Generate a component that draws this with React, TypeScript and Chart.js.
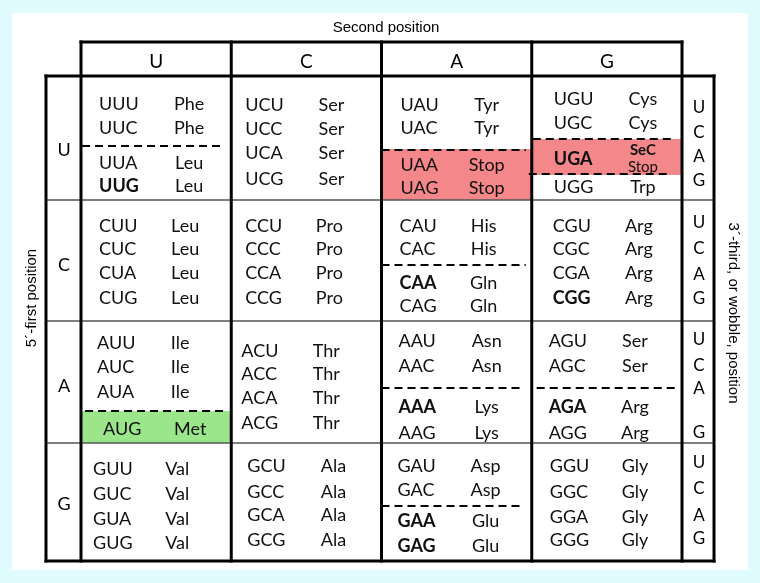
import React, { useEffect, useRef } from "react";
import { Chart, registerables } from "chart.js";
Chart.register(...registerables);

// ---------------- data ----------------
const BASES = ["U", "C", "A", "G"];
const TITLE_SECOND = "Second position";
const TITLE_FIRST = "5´-first position";
const TITLE_THIRD = "3´-third, or wobble, position";

// amino acid per [second base][third base], one array per first base
const AA_FIRST_U = [["Phe", "Phe", "Leu", "Leu"], ["Ser", "Ser", "Ser", "Ser"], ["Tyr", "Tyr", "Stop", "Stop"], ["Cys", "Cys", "Stop", "Trp"]];
const AA_FIRST_C = [["Leu", "Leu", "Leu", "Leu"], ["Pro", "Pro", "Pro", "Pro"], ["His", "His", "Gln", "Gln"], ["Arg", "Arg", "Arg", "Arg"]];
const AA_FIRST_A = [["Ile", "Ile", "Ile", "Met"], ["Thr", "Thr", "Thr", "Thr"], ["Asn", "Asn", "Lys", "Lys"], ["Ser", "Ser", "Arg", "Arg"]];
const AA_FIRST_G = [["Val", "Val", "Val", "Val"], ["Ala", "Ala", "Ala", "Ala"], ["Asp", "Asp", "Glu", "Glu"], ["Gly", "Gly", "Gly", "Gly"]];
const AMINO = [AA_FIRST_U, AA_FIRST_C, AA_FIRST_A, AA_FIRST_G];

const BOLD_CODONS = ["UUG", "UGA", "CAA", "CGG", "AAA", "AGA", "GAA", "GAG"];
const STOP_CODONS = ["UAA", "UAG", "UGA"];
const START_CODONS = ["AUG"];
const SEC_CODONS = ["UGA"];
const SEC_LABEL = "SeC";

// ---------------- layout (not data) ----------------
// x: 1 unit = one second-position column; y: 1 unit ≈ one first-position row group
const X_MIN = -0.5391, X_MAX = 4.5191;
const Y_MIN = -0.6268, Y_MAX = 4.1814;
const Y_EDGES = [0, 1.0227, 2.0206, 3.0268, 4];
const LEFT_X = -0.233, RIGHT_X = 4.213, HEADER_TOP = -0.2804;
const PANEL = { x0: -0.459, x1: 4.439, y0: -0.52, y1: 4.074 };

const LINE_FRAC = [
  [[0.218, 0.419, 0.694, 0.887], [0.226, 0.427, 0.621, 0.823], [0.226, 0.419, 0.71, 0.903], [0.185, 0.379, 0.669, 0.895]],
  [[0.207, 0.405, 0.603, 0.802], [0.207, 0.405, 0.603, 0.802], [0.207, 0.405, 0.686, 0.876], [0.207, 0.405, 0.603, 0.802]],
  [[0.18, 0.377, 0.574, 0.885], [0.238, 0.434, 0.631, 0.836], [0.164, 0.361, 0.705, 0.91], [0.164, 0.361, 0.705, 0.91]],
  [[0.22, 0.424, 0.636, 0.847], [0.195, 0.407, 0.61, 0.814], [0.195, 0.398, 0.661, 0.873], [0.195, 0.407, 0.619, 0.822]],
];
const CODON_X = [
  [0.12, 0.093, 0.127, 0.147],
  [0.12, 0.093, 0.12, 0.14],
  [0.107, 0.067, 0.113, 0.113],
  [0.08, 0.107, 0.107, 0.12],
];
const AA_X = [
  [0.72, 0.667, 0.7, 0.74],
  [0.693, 0.653, 0.68, 0.713],
  [0.66, 0.633, 0.7, 0.687],
  [0.64, 0.68, 0.693, 0.687],
];
const START_X = { codon: 0.147, aa: 0.727 };
// dashed separators: [row, col, frac, xa, xb]
const DASHES = [
  [0, 0, 0.565, 0.007, 0.953],
  [0, 2, 0.597, 0.0, 0.96],
  [0, 3, 0.508, 0.007, 0.947],
  [0, 3, 0.79, -0.02, 0.91],
  [1, 2, 0.537, 0.0, 0.96],
  [2, 0, 0.738, 0.027, 0.973],
  [2, 2, 0.549, 0.0, 0.947],
  [2, 3, 0.549, 0.033, 0.973],
  [3, 2, 0.534, 0.0, 0.947],
];
// shaded bands: [row, col, fracFrom, fracTo, codonIndexInside]
const BANDS = [
  [0, 2, 0.589, 1.0, 2],
  [0, 3, 0.508, 0.798, 2],
  [2, 0, 0.738, 1.0, 3],
];
const RIGHT_FRAC = [[0.25, 0.452, 0.645, 0.839], [0.182, 0.397, 0.612, 0.81], [0.148, 0.361, 0.549, 0.91], [0.161, 0.381, 0.61, 0.805]];
const LEFT_FRAC = [0.589, 0.537, 0.525, 0.517];

const BG = "#e0fbfe";
const RED = "#f3878a";
const GREEN = "#9be58a";
const INK = "#111111";
const F = "Lato, 'Open Sans', sans-serif";
const FA = "'Liberation Sans', Arial, sans-serif";

const tablePlugin = {
  id: "codonTable",
  beforeDraw(chart: any) {
    const ctx = chart.ctx as CanvasRenderingContext2D;
    const xs = chart.scales.x, ys = chart.scales.y;
    const X = (v: number) => xs.getPixelForValue(v);
    const Y = (v: number) => ys.getPixelForValue(v);
    const rowY = (g: number, f: number) => Y(Y_EDGES[g] + f * (Y_EDGES[g + 1] - Y_EDGES[g]));
    const colX = (c: number, a: number) => X(c + a);

    ctx.save();
    // background
    ctx.fillStyle = BG;
    ctx.fillRect(0, 0, chart.width, chart.height);
    ctx.fillStyle = "#ffffff";
    ctx.fillRect(X(PANEL.x0), Y(PANEL.y0), X(PANEL.x1) - X(PANEL.x0), Y(PANEL.y1) - Y(PANEL.y0));

    // bands
    BANDS.forEach(([g, c, f0, f1, k]) => {
      const codon = BASES[g] + BASES[c] + BASES[k];
      ctx.fillStyle = STOP_CODONS.includes(codon) ? RED : START_CODONS.includes(codon) ? GREEN : "transparent";
      const y0 = rowY(g, f0), y1 = rowY(g, f1);
      ctx.fillRect(X(c), y0, X(c + 1) - X(c), y1 - y0);
    });

    // thin group separators
    ctx.strokeStyle = "#555";
    ctx.lineWidth = 1.5;
    for (let g = 1; g < 4; g++) {
      const y = Y(Y_EDGES[g]);
      ctx.beginPath();
      ctx.moveTo(X(LEFT_X), y);
      ctx.lineTo(X(RIGHT_X), y);
      ctx.stroke();
    }

    // thick frame
    ctx.strokeStyle = "#000";
    ctx.lineWidth = 3;
    ctx.lineCap = "square";
    const line = (x0: number, y0: number, x1: number, y1: number) => {
      ctx.beginPath();
      ctx.moveTo(x0, y0);
      ctx.lineTo(x1, y1);
      ctx.stroke();
    };
    const yTop = Y(HEADER_TOP), yGrid = Y(0), yBot = Y(4);
    line(X(0), yTop, X(4), yTop);
    line(X(LEFT_X), yGrid, X(RIGHT_X), yGrid);
    line(X(LEFT_X), yBot, X(RIGHT_X), yBot);
    for (let c = 0; c <= 4; c++) line(X(c), yTop, X(c), yBot);
    line(X(LEFT_X), yGrid, X(LEFT_X), yBot);
    line(X(RIGHT_X), yGrid, X(RIGHT_X), yBot);

    // dashed separators
    ctx.lineWidth = 2;
    ctx.lineCap = "butt";
    ctx.setLineDash([8, 5]);
    DASHES.forEach(([g, c, f, a, b]) => {
      const y = rowY(g, f);
      line(colX(c, a), y, colX(c, b), y);
    });
    ctx.setLineDash([]);

    // texts
    const text = (s: string, x: number, yc: number, size: number, bold: boolean, align: CanvasTextAlign, family = F) => {
      ctx.font = `${bold ? "bold " : ""}${size}px ${family}`;
      ctx.textAlign = align;
      ctx.textBaseline = "alphabetic";
      ctx.fillText(s, x, yc + size * 0.36);
    };
    ctx.fillStyle = "#000";
    text(TITLE_SECOND, X(2.03), Y(-0.404), 15, false, "center", FA);

    BASES.forEach((b, c) => text(b, X(c + 0.5), Y(-0.124), 19, false, "center"));
    BASES.forEach((b, g) => text(b, X(-0.113), rowY(g, LEFT_FRAC[g]), 18, false, "center"));
    BASES.forEach((_, g) =>
      BASES.forEach((b3, k) => text(b3, X(4.113), rowY(g, RIGHT_FRAC[g][k]), 17, false, "center"))
    );

    ctx.fillStyle = INK;
    for (let g = 0; g < 4; g++) {
      for (let c = 0; c < 4; c++) {
        for (let k = 0; k < 4; k++) {
          const codon = BASES[g] + BASES[c] + BASES[k];
          const aa = AMINO[g][c][k];
          const yc = rowY(g, LINE_FRAC[g][c][k]);
          const start = START_CODONS.includes(codon);
          const cx = start ? START_X.codon : CODON_X[g][c];
          const ax = start ? START_X.aa : AA_X[g][c];
          text(codon, colX(c, cx), yc, 18, BOLD_CODONS.includes(codon), "left");
          if (SEC_CODONS.includes(codon)) {
            const h = Y_EDGES[g + 1] - Y_EDGES[g];
            text(SEC_LABEL, colX(c, ax), Y(Y_EDGES[g] + (LINE_FRAC[g][c][k] - 0.075) * h), 15, true, "center");
            text(aa, colX(c, ax), Y(Y_EDGES[g] + (LINE_FRAC[g][c][k] + 0.062) * h), 15, false, "center");
          } else {
            text(aa, colX(c, ax), yc, 18, false, "center");
          }
        }
      }
    }

    // rotated axis titles
    ctx.fillStyle = "#000";
    ctx.font = `15px ${FA}`;
    ctx.textAlign = "center";
    ctx.textBaseline = "middle";
    ctx.save();
    ctx.translate(X(-0.326), Y(1.831));
    ctx.rotate(-Math.PI / 2);
    ctx.fillText(TITLE_FIRST, 0, 0);
    ctx.restore();
    ctx.save();
    ctx.translate(X(4.339), Y(1.955));
    ctx.rotate(Math.PI / 2);
    ctx.fillText(TITLE_THIRD, 0, 0);
    ctx.restore();

    ctx.restore();
  },
};

export default function App() {
  const ref = useRef<HTMLCanvasElement | null>(null);
  useEffect(() => {
    document.body.style.margin = "0";
    const chart = new Chart(ref.current as HTMLCanvasElement, {
      type: "scatter",
      data: { datasets: [{ data: [], pointRadius: 0 }] },
      options: {
        animation: false,
        responsive: false,
        devicePixelRatio: 1,
        layout: { padding: 0 },
        events: [],
        plugins: { legend: { display: false }, tooltip: { enabled: false }, title: { display: false } },
        scales: {
          x: { type: "linear", min: X_MIN, max: X_MAX, display: false },
          y: { type: "linear", min: Y_MIN, max: Y_MAX, reverse: true, display: false },
        },
      },
      plugins: [tablePlugin],
    });
    return () => chart.destroy();
  }, []);
  return (
    <div style={{ position: "absolute", left: 0, top: 0, width: 760, height: 583 }}>
      <canvas ref={ref} width={760} height={583} style={{ display: "block" }} />
    </div>
  );
}
